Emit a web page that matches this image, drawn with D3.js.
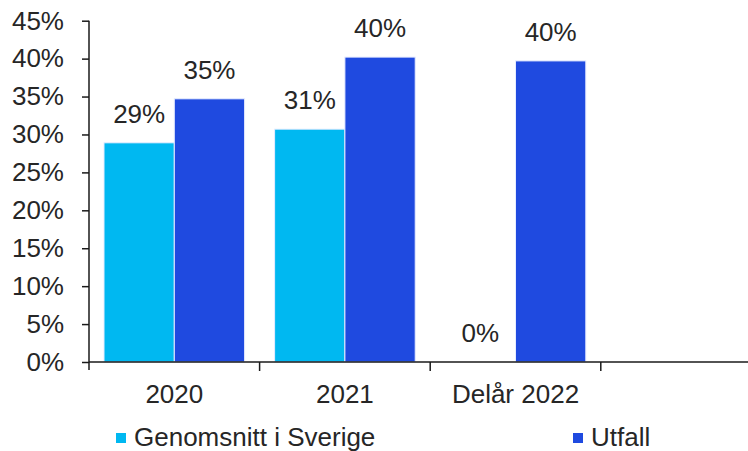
<!DOCTYPE html>
<html>
<head>
<meta charset="utf-8">
<script src="https://cdn.jsdelivr.net/npm/d3@7"></script>
<style>
  body { margin: 0; background: #ffffff; }
  svg { display: block; }
  text { font-family: "Liberation Sans", Arial, sans-serif; fill: #262626; }
</style>
</head>
<body>
<div id="chart"></div>
<script>
// categories on x axis (last slot is empty in the original)
var categories = ["2020", "2021", "Delår 2022", ""];
var seriesNames = ["Genomsnitt i Sverige", "Utfall"];
// values in percent
var genomsnitt = [28.9, 30.7, 0];
var utfall = [34.7, 40.2, 39.7];
var yTicks = [0, 5, 10, 15, 20, 25, 30, 35, 40, 45];
var colors = ["#00b8f1", "#1f4ae0"];

var W = 748, H = 451;
var left = 89, bandW = 170.6;
var yTop = 20.7, yBottom = 362;
var fs = "26px";

var svg = d3.select("#chart")
    .append("svg")
    .attr("width", W)
    .attr("height", H);

var x = d3.scaleBand()
    .domain(categories)
    .range([left, left + bandW * categories.length])
    .padding(0);

var xInner = d3.scaleBand()
    .domain(seriesNames)
    .range([15, x.bandwidth() - 15])
    .padding(0);

var y = d3.scaleLinear()
    .domain([0, 45])
    .range([yBottom, yTop]);

// flatten into bar records
var bars = [];
categories.forEach(function (c, i) {
    if (i < genomsnitt.length) bars.push({ cat: c, s: seriesNames[0], v: genomsnitt[i], col: colors[0] });
    if (i < utfall.length) bars.push({ cat: c, s: seriesNames[1], v: utfall[i], col: colors[1] });
});

// bars
svg.append("g")
    .selectAll("rect")
    .data(bars.filter(function (d) { return d.v > 0; }))
    .enter().append("rect")
    .attr("x", function (d) { return x(d.cat) + xInner(d.s); })
    .attr("width", xInner.bandwidth())
    .attr("y", function (d) { return y(d.v); })
    .attr("height", function (d) { return y(0) - y(d.v); })
    .attr("fill", function (d) { return d.col; })
    .attr("stroke", "#e6ecff")
    .attr("stroke-width", 1);

// value labels
svg.append("g")
    .selectAll("text")
    .data(bars)
    .enter().append("text")
    .attr("x", function (d) { return x(d.cat) + xInner(d.s) + xInner.bandwidth() / 2; })
    .attr("y", function (d) { return y(d.v) - 20; })
    .attr("text-anchor", "middle")
    .style("font-size", fs)
    .text(function (d) { return Math.round(d.v) + "%"; });

// y axis
var yAxis = svg.append("g")
    .attr("transform", "translate(" + left + ",0)")
    .call(d3.axisLeft(y).tickValues(yTicks).tickSize(7).tickPadding(18)
        .tickFormat(function (d) { return d + "%"; }));
yAxis.select(".domain").attr("d", "M0," + yTop + "V" + (yBottom + 8));

// x axis with ticks on band edges
var xAxis = svg.append("g")
    .attr("transform", "translate(0," + yBottom + ")");
xAxis.append("line")
    .attr("x1", left)
    .attr("x2", W)
    .attr("stroke", "#1a1a1a")
    .attr("stroke-width", 1.5);
xAxis.selectAll(".edge")
    .data(categories)
    .enter().append("line")
    .attr("class", "edge")
    .attr("x1", function (d) { return x(d) + x.bandwidth(); })
    .attr("x2", function (d) { return x(d) + x.bandwidth(); })
    .attr("y1", 0)
    .attr("y2", 9)
    .attr("stroke", "#1a1a1a")
    .attr("stroke-width", 1.5);
xAxis.selectAll(".lab")
    .data(categories)
    .enter().append("text")
    .attr("class", "lab")
    .attr("x", function (d) { return x(d) + x.bandwidth() / 2; })
    .attr("y", 41)
    .attr("text-anchor", "middle")
    .style("font-size", fs)
    .text(function (d) { return d; });

yAxis.selectAll(".domain, line")
    .attr("stroke", "#1a1a1a")
    .attr("stroke-width", 1.5);
yAxis.selectAll("text")
    .style("font-size", fs)
    .style("font-family", "'Liberation Sans', Arial, sans-serif")
    .attr("fill", "#262626");

// legend
var legendX = [116, 573];
var legend = svg.append("g")
    .selectAll("g")
    .data(seriesNames)
    .enter().append("g")
    .attr("transform", function (d, i) { return "translate(" + legendX[i] + ",0)"; });
legend.append("rect")
    .attr("x", 0)
    .attr("y", 433)
    .attr("width", 10)
    .attr("height", 10)
    .attr("fill", function (d, i) { return colors[i]; });
legend.append("text")
    .attr("x", 18)
    .attr("y", 446)
    .style("font-size", fs)
    .text(function (d) { return d; });
</script>
</body>
</html>
